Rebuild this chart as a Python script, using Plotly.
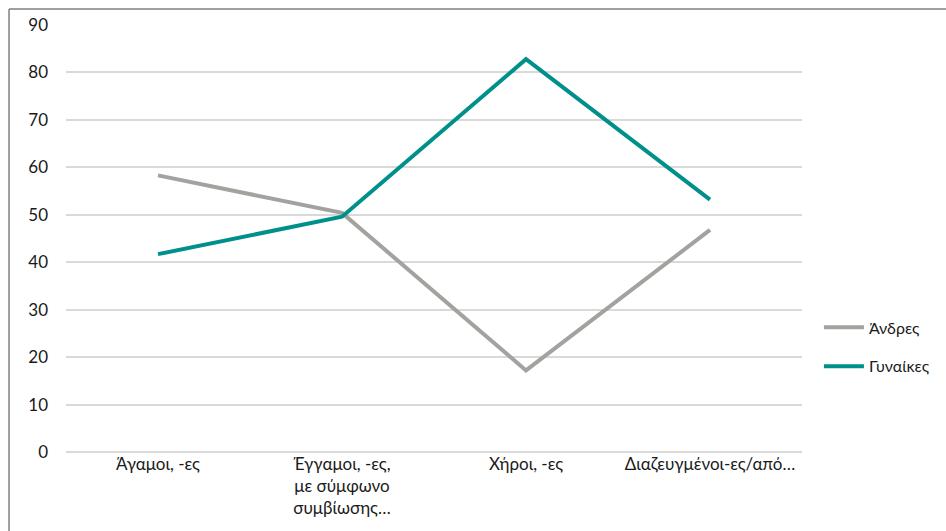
import plotly.graph_objects as go

categories = ["Άγαμοι, -ες", "Έγγαμοι, -ες,<br>με σύμφωνο<br>συμβίωσης…", "Χήροι, -ες", "Διαζευγμένοι-ες/από…"]
men = [58.3, 50.4, 17.2, 46.8]
women = [41.7, 49.6, 82.8, 53.2]
series_names = ["Άνδρες", "Γυναίκες"]
y_ticks = [0, 10, 20, 30, 40, 50, 60, 70, 80, 90]

FONT = "Lato, 'Open Sans', sans-serif"

fig = go.Figure()
fig.add_trace(go.Scatter(x=categories, y=men, mode="lines", name=series_names[0],
                         line=dict(color="#A3A29E", width=4), legendgroup="a"))
fig.add_trace(go.Scatter(x=categories, y=women, mode="lines", name=series_names[1],
                         line=dict(color="#00908C", width=4), legendgroup="b"))

fig.update_layout(
    width=946, height=531,
    margin=dict(l=66, r=144, t=25, b=79, autoexpand=False),
    paper_bgcolor="white", plot_bgcolor="white",
    font=dict(family=FONT, size=15, color="#1A1A1A"),
    xaxis=dict(type="category", range=[-0.5, 3.5], showgrid=False, showline=False,
               ticks="", tickfont=dict(size=17)),
    yaxis=dict(range=[0, 90], tickvals=y_ticks, showgrid=True, gridcolor="#D9D9D9",
               gridwidth=1.5, zeroline=True, zerolinecolor="#D9D9D9", zerolinewidth=1.5,
               showline=False, ticks="", ticklabelstandoff=17, tickfont=dict(size=17)),
    legend=dict(x=1.023, y=0.246, xanchor="left", yanchor="middle",
                font=dict(size=16), tracegroupgap=15, itemwidth=40),
    showlegend=True,
    shapes=[
        dict(type="line", xref="paper", yref="paper", x0=-0.0774, x1=1.3, y0=1.0375, y1=1.0375,
             line=dict(color="#7F7F7F", width=1.5)),
        dict(type="line", xref="paper", yref="paper", x0=-0.0774, x1=-0.0774, y0=-0.3, y1=1.0375,
             line=dict(color="#7F7F7F", width=1.5)),
    ],
)

fig.write_html("out.html", config={"displayModeBar": False},
               post_script="document.body.style.margin='0';")
